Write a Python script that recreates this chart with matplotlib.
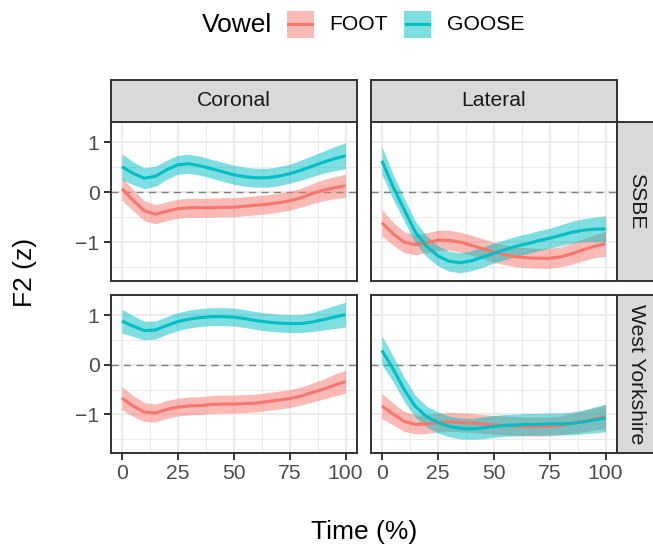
import numpy as np
import matplotlib
matplotlib.use("Agg")
import matplotlib.pyplot as plt
from matplotlib.patches import Rectangle
from matplotlib.lines import Line2D

# ---------------- data ----------------
time_pct = [0, 5, 10, 15, 20, 25, 30, 35, 40, 45, 50, 55, 60, 65, 70, 75, 80, 85, 90, 95, 100]
vowels = ["FOOT", "GOOSE"]
contexts = ["Coronal", "Lateral"]
varieties = ["SSBE", "West Yorkshire"]

# SSBE, Coronal
ssbe_cor_foot = [0.07, -0.16, -0.37, -0.44, -0.38, -0.33, -0.31, -0.31, -0.31, -0.30, -0.30,
                 -0.28, -0.26, -0.24, -0.21, -0.17, -0.11, -0.03, 0.04, 0.09, 0.13]
ssbe_cor_foot_ci = [0.23, 0.21, 0.20, 0.19, 0.19, 0.19, 0.19, 0.19, 0.19, 0.19, 0.19,
                    0.19, 0.19, 0.19, 0.19, 0.19, 0.19, 0.20, 0.21, 0.22, 0.23]
ssbe_cor_goose = [0.51, 0.38, 0.28, 0.32, 0.45, 0.55, 0.57, 0.53, 0.47, 0.41, 0.35,
                  0.31, 0.29, 0.29, 0.32, 0.37, 0.44, 0.52, 0.60, 0.67, 0.73]
ssbe_cor_goose_ci = [0.26, 0.23, 0.21, 0.20, 0.19, 0.19, 0.19, 0.19, 0.19, 0.19, 0.19,
                     0.19, 0.19, 0.19, 0.19, 0.19, 0.20, 0.21, 0.22, 0.24, 0.26]
# SSBE, Lateral
ssbe_lat_foot = [-0.61, -0.83, -1.00, -1.05, -1.01, -0.96, -0.96, -1.00, -1.06, -1.13, -1.20,
                 -1.25, -1.29, -1.31, -1.32, -1.32, -1.29, -1.23, -1.15, -1.08, -1.03]
ssbe_lat_foot_ci = [0.26, 0.23, 0.21, 0.20, 0.20, 0.20, 0.20, 0.20, 0.20, 0.20, 0.20,
                    0.20, 0.20, 0.20, 0.20, 0.20, 0.20, 0.21, 0.22, 0.23, 0.25]
ssbe_lat_goose = [0.63, 0.11, -0.35, -0.80, -1.08, -1.27, -1.38, -1.41, -1.37, -1.30, -1.22,
                  -1.15, -1.08, -1.03, -0.97, -0.92, -0.86, -0.80, -0.76, -0.74, -0.73]
ssbe_lat_goose_ci = [0.28, 0.25, 0.23, 0.22, 0.21, 0.20, 0.20, 0.20, 0.20, 0.20, 0.20,
                     0.20, 0.20, 0.20, 0.20, 0.20, 0.21, 0.22, 0.23, 0.24, 0.26]
# West Yorkshire, Coronal
wy_cor_foot = [-0.67, -0.83, -0.95, -0.97, -0.90, -0.85, -0.83, -0.82, -0.80, -0.79, -0.79,
               -0.78, -0.77, -0.74, -0.71, -0.68, -0.63, -0.56, -0.49, -0.41, -0.34]
wy_cor_foot_ci = [0.23, 0.21, 0.19, 0.18, 0.18, 0.18, 0.18, 0.18, 0.18, 0.18, 0.18,
                  0.18, 0.18, 0.18, 0.18, 0.18, 0.18, 0.19, 0.20, 0.22, 0.23]
wy_cor_goose = [0.88, 0.78, 0.69, 0.70, 0.79, 0.87, 0.92, 0.95, 0.97, 0.97, 0.96,
                0.93, 0.89, 0.86, 0.84, 0.83, 0.83, 0.86, 0.91, 0.96, 1.01]
wy_cor_goose_ci = [0.24, 0.21, 0.19, 0.18, 0.18, 0.18, 0.18, 0.18, 0.18, 0.18, 0.18,
                   0.18, 0.18, 0.18, 0.18, 0.18, 0.18, 0.19, 0.21, 0.23, 0.25]
# West Yorkshire, Lateral
wy_lat_foot = [-0.83, -0.99, -1.14, -1.20, -1.19, -1.16, -1.15, -1.16, -1.17, -1.19, -1.21,
               -1.22, -1.23, -1.24, -1.24, -1.24, -1.22, -1.18, -1.14, -1.09, -1.05]
wy_lat_foot_ci = [0.25, 0.22, 0.20, 0.19, 0.19, 0.19, 0.19, 0.19, 0.19, 0.19, 0.19,
                  0.19, 0.19, 0.19, 0.19, 0.19, 0.19, 0.20, 0.21, 0.22, 0.24]
wy_lat_goose = [0.29, -0.08, -0.50, -0.84, -1.04, -1.16, -1.24, -1.28, -1.29, -1.27, -1.24,
                -1.22, -1.21, -1.20, -1.20, -1.19, -1.19, -1.18, -1.15, -1.11, -1.07]
wy_lat_goose_ci = [0.29, 0.26, 0.24, 0.22, 0.21, 0.21, 0.21, 0.21, 0.21, 0.22, 0.22,
                   0.22, 0.22, 0.22, 0.22, 0.22, 0.22, 0.23, 0.24, 0.26, 0.28]

x_ticks = [0, 25, 50, 75, 100]
y_ticks = [-1, 0, 1]

panels = {
    ("SSBE", "Coronal"): [(ssbe_cor_foot, ssbe_cor_foot_ci), (ssbe_cor_goose, ssbe_cor_goose_ci)],
    ("SSBE", "Lateral"): [(ssbe_lat_foot, ssbe_lat_foot_ci), (ssbe_lat_goose, ssbe_lat_goose_ci)],
    ("West Yorkshire", "Coronal"): [(wy_cor_foot, wy_cor_foot_ci), (wy_cor_goose, wy_cor_goose_ci)],
    ("West Yorkshire", "Lateral"): [(wy_lat_foot, wy_lat_foot_ci), (wy_lat_goose, wy_lat_goose_ci)],
}

# ---------------- style ----------------
colors = {"FOOT": "#F8766D", "GOOSE": "#00BFC4"}
GRID = "#EBEBEB"
BORDER = "#333333"
TICKC = "#4D4D4D"
STRIPF = "#D9D9D9"
BIG = 19
SMALL = 15.2

plt.rcParams['font.family'] = ['Liberation Sans', 'DejaVu Sans']

W, H = 653, 546
fig = plt.figure(figsize=(W / 100, H / 100), dpi=100)
fig.patch.set_facecolor("white")


def ax_px(x0, y0, x1, y1):
    return fig.add_axes([x0 / W, 1 - y1 / H, (x1 - x0) / W, (y1 - y0) / H])


col_x = [(110.7, 356.7), (370.7, 616.7)]
row_y = [(122, 281), (295, 453)]

for r, var in enumerate(varieties):
    for c, ctx in enumerate(contexts):
        x0, x1 = col_x[c]
        y0, y1 = row_y[r]
        ax = ax_px(x0, y0, x1, y1)
        ax.set_xlim(-5, 105)
        ax.set_ylim(-1.775, 1.405)
        ax.set_xticks(x_ticks)
        ax.set_xticks([12.5, 37.5, 62.5, 87.5], minor=True)
        ax.set_yticks(y_ticks)
        ax.set_yticks([-1.5, -0.5, 0.5], minor=True)
        ax.grid(True, which="major", color=GRID, lw=1.5, zorder=0)
        ax.grid(True, which="minor", color=GRID, lw=0.75, zorder=0)
        ax.set_axisbelow(True)
        for s in ax.spines.values():
            s.set_color(BORDER)
            s.set_linewidth(1.4)
            s.set_zorder(10)
        ax.tick_params(which="minor", length=0)
        ax.tick_params(which="major", length=5, width=1.4, color=BORDER,
                       labelsize=SMALL, labelcolor=TICKC, pad=3)
        if c != 0:
            ax.tick_params(axis="y", which="major", length=0, labelleft=False)
        if r != len(varieties) - 1:
            ax.tick_params(axis="x", which="major", length=0, labelbottom=False)

        ax.axhline(0, color="#7F7F7F", lw=1.0, dashes=(5, 4), zorder=1)
        t = np.array(time_pct)
        for v, (vals, ci) in zip(vowels, panels[(var, ctx)]):
            vals = np.array(vals)
            ci = np.array(ci)
            ax.fill_between(t, vals - ci, vals + ci, color=colors[v], alpha=0.5,
                            lw=0, zorder=2)
            ax.plot(t, vals, color=colors[v], lw=2.2, zorder=3, solid_capstyle="butt")

        # top strips
        if r == 0:
            sax = ax_px(x0, 80, x1, 122)
            sax.set_facecolor(STRIPF)
            sax.set_xticks([]); sax.set_yticks([])
            for s in sax.spines.values():
                s.set_color(BORDER); s.set_linewidth(1.4)
            sax.text(0.5, 0.5, ctx, ha="center", va="center", fontsize=SMALL,
                     color="#1A1A1A", transform=sax.transAxes)
        # right strips
        if c == len(contexts) - 1:
            sax = ax_px(617.3, y0, 659, y1)
            sax.set_facecolor(STRIPF)
            sax.set_xticks([]); sax.set_yticks([])
            for s in sax.spines.values():
                s.set_color(BORDER); s.set_linewidth(1.4)
            sax.text(0.46, 0.5, var, ha="center", va="center", fontsize=SMALL,
                     color="#1A1A1A", rotation=-90, transform=sax.transAxes)

# axis titles
fig.text(363.7 / W, 1 - 532 / H, "Time (%)", ha="center", va="center", fontsize=BIG)
fig.text(25 / W, 1 - 272 / H, "F2 (z)", ha="center", va="center", fontsize=BIG,
         rotation=90)

# legend
ly = 1 - 24.5 / H
fig.text(201.7 / W, ly, "Vowel", ha="left", va="center", fontsize=BIG)
keys = [("FOOT", 286.7, 329.3), ("GOOSE", 404.0, 446.7)]
for name, kx, tx in keys:
    fig.add_artist(Rectangle((kx / W, 1 - 37.7 / H), 27 / W, 26.7 / H,
                             transform=fig.transFigure, facecolor=colors[name],
                             alpha=0.5, lw=0))
    fig.add_artist(Line2D([(kx + 1.7) / W, (kx + 25.3) / W], [1 - 24.3 / H, 1 - 24.3 / H],
                          transform=fig.transFigure, color=colors[name], lw=2.2))
    fig.text(tx / W, ly, name, ha="left", va="center", fontsize=SMALL)

fig.savefig("out.png", dpi=100)
